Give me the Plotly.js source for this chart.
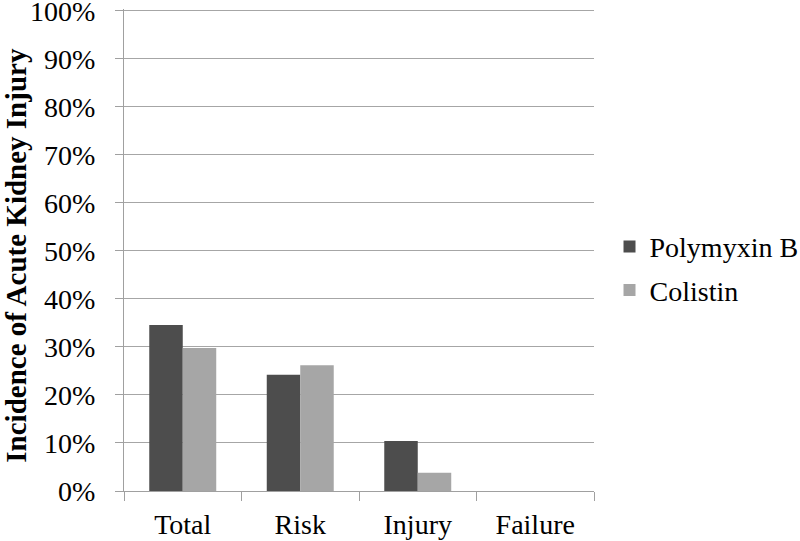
<!DOCTYPE html>
<html>
<head>
<meta charset="utf-8">
<script src="https://cdn.plot.ly/plotly-3.0.1.min.js"></script>
<style>html,body{margin:0;padding:0;background:#fff;}#chart{width:800px;height:541px;}</style>
</head>
<body>
<div id="chart"></div>
<script>
const categories = ["Total", "Risk", "Injury", "Failure"];
const polymyxinB = [0.346, 0.242, 0.104, 0];
const colistin = [0.298, 0.262, 0.038, 0];
const seriesNames = ["Polymyxin B", "Colistin"];
const yTickVals = [0, 0.1, 0.2, 0.3, 0.4, 0.5, 0.6, 0.7, 0.8, 0.9, 1.0];
const yTickText = ["0%", "10%", "20%", "30%", "40%", "50%", "60%", "70%", "80%", "90%", "100%"];
const yTitle = "Incidence of Acute Kidney Injury";

const FONT = "Liberation Serif, Times New Roman, serif";

const traces = [
  {type: "bar", name: seriesNames[0], x: categories, y: polymyxinB, legendgroup: "a",
   marker: {color: "#4d4d4d"}},
  {type: "bar", name: seriesNames[1], x: categories, y: colistin, legendgroup: "b",
   marker: {color: "#a6a6a6"}}
];

const layout = {
  width: 800, height: 541,
  margin: {l: 124, r: 206, t: 9, b: 50, pad: 0, autoexpand: false},
  paper_bgcolor: "#fff", plot_bgcolor: "#fff",
  font: {family: FONT, size: 28, color: "#000"},
  barmode: "group", bargap: 0.43, bargroupgap: 0,
  showlegend: true,
  legend: {x: 1.033, xanchor: "left", y: 0.462, yanchor: "middle",
           traceorder: "grouped", tracegroupgap: 4,
           font: {family: FONT, size: 28, color: "#000"}, bgcolor: "rgba(0,0,0,0)"},
  xaxis: {
    type: "category", showgrid: false, zeroline: false,
    showline: true, linecolor: "#a0a0a0", linewidth: 1,
    ticks: "outside", tickson: "boundaries", ticklen: 9, tickcolor: "#a0a0a0",
    ticklabelstandoff: 8,
    tickfont: {family: FONT, size: 28, color: "#000"}
  },
  yaxis: {
    range: [0, 1.004], tickvals: yTickVals, ticktext: yTickText,
    showgrid: true, gridcolor: "#a6a6a6", gridwidth: 1, zeroline: false,
    showline: true, linecolor: "#a0a0a0", linewidth: 1,
    ticks: "outside", ticklen: 8, tickcolor: "#a0a0a0",
    ticklabelstandoff: 14, ticklabeloverflow: "allow",
    tickfont: {family: FONT, size: 28, color: "#000"}
  },
  annotations: [{
    xref: "paper", yref: "paper", x: -0.229, y: 0.489,
    xanchor: "center", yanchor: "middle", textangle: -90, showarrow: false,
    text: "<b>" + yTitle + "</b>",
    font: {family: FONT, size: 29, color: "#000"}
  }]
};

Plotly.newPlot("chart", traces, layout, {displayModeBar: false, staticPlot: true});
</script>
</body>
</html>
